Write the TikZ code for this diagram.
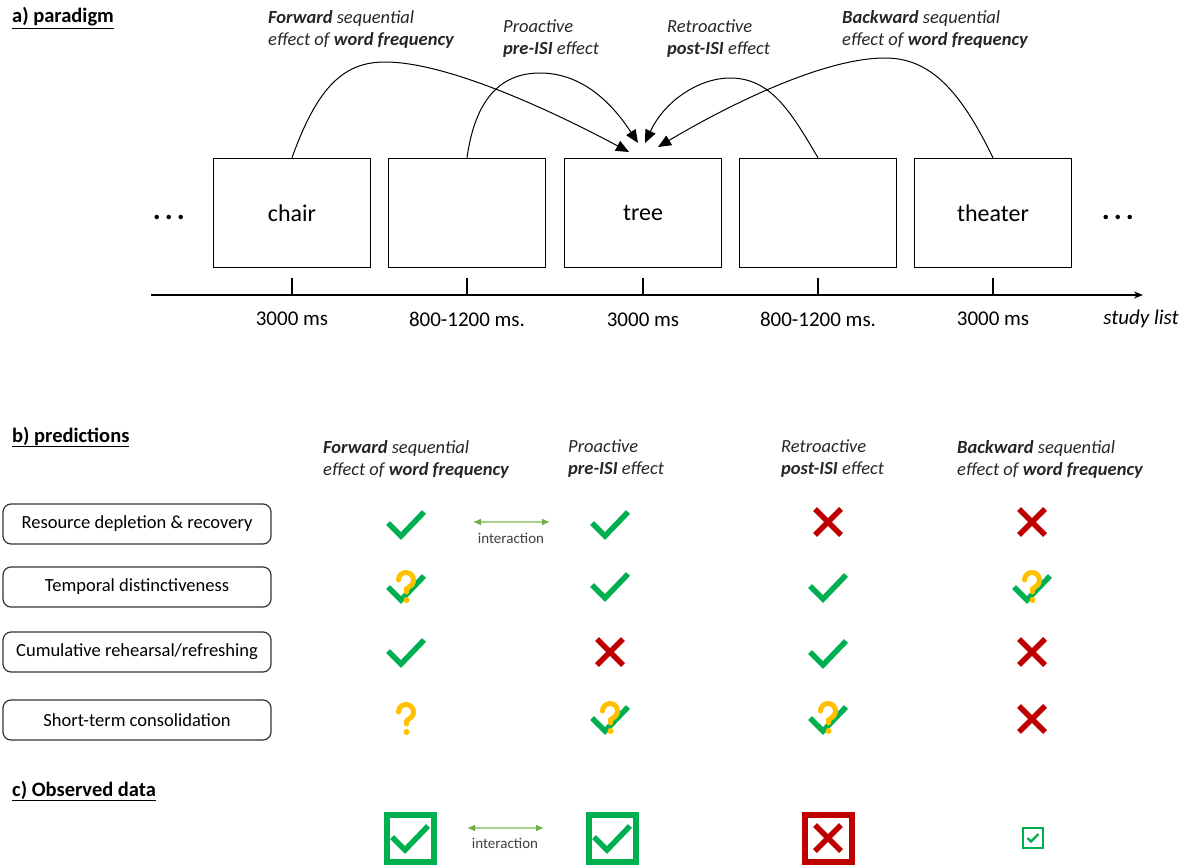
\documentclass[tikz,border=0pt]{standalone}
\usepackage{fontspec}
\setmainfont{Carlito}
\usetikzlibrary{arrows.meta}
\definecolor{cgreen}{HTML}{00B050}
\definecolor{cred}{HTML}{C00000}
\definecolor{cyellow}{HTML}{FFC000}
\definecolor{lgreen}{HTML}{A9D18E}
\definecolor{dgreen}{HTML}{70AD47}
\definecolor{txtgray}{HTML}{262626}
\tikzset{
  chk/.pic={\draw[cgreen,line width=5.5pt,line join=miter] (-18,-1) -- (-5,12) -- (18,-12);},
  crs/.pic={\draw[cred,line width=5.5pt] (-13,-13) -- (13,13) (-13,13) -- (13,-13);},
  qm/.pic={\draw[cyellow,line width=5pt,line cap=round] (-7.5,-8) arc[start angle=180,end angle=400,radius=7.5] -- (0.5,1) -- (0.5,4);
           \fill[cyellow] (0.5,12) circle (3);},
  chkq/.pic={\pic{chk}; \pic{qm};},
  gbox/.pic={\draw[cgreen,line width=6pt] (-23.5,-23.5) rectangle (23.5,23.5); \pic{chk};},
  rbox/.pic={\draw[cred,line width=6pt] (-23.5,-23.5) rectangle (23.5,23.5); \pic{crs};},
  sbox/.pic={\draw[cgreen,line width=2pt] (-10,-10) rectangle (10,10);
             \draw[cgreen,line width=2.2pt] (-5.5,0) -- (-2,3.5) -- (5.5,-4);},
  hdr/.style={anchor=west,inner sep=0pt,font=\fontsize{20.5}{24}\selectfont\bfseries},
  ann/.style={anchor=west,inner sep=0pt,align=left,text=txtgray,font=\fontsize{18.5}{22}\selectfont\itshape},
  wbox/.style={draw,line width=1.5pt,minimum width=157pt,minimum height=109pt,inner sep=0pt,font=\fontsize{24}{28}\selectfont},
  tlab/.style={inner sep=0pt,font=\fontsize{21}{25}\selectfont},
  dots/.style={inner sep=0pt,font=\fontsize{30}{34}\selectfont\bfseries},
  crv/.style={draw,line width=1pt,-{Triangle[length=13pt,width=11pt]}},
  labbox/.style={draw=black!80,line width=1.2pt,rounded corners=8pt,minimum width=268pt,minimum height=40pt,inner sep=0pt,font=\fontsize{18.5}{22}\selectfont},
  inter/.style={draw=lgreen,line width=1.5pt,{Latex[color=dgreen,length=8pt,width=7pt]}-{Latex[color=dgreen,length=8pt,width=7pt]}},
  itext/.style={inner sep=0pt,text=black!75,font=\fontsize{15}{18}\selectfont}
}
\begin{document}
\begin{tikzpicture}[x=1pt,y=-1pt]
\useasboundingbox (0,0) rectangle (1187,865);

% a) paradigm
\node[hdr] (ha) at (12,18) {\underline{a) paradigm}};
\node[ann] (af) at (268,29) {\textbf{Forward} sequential\\effect of \textbf{word frequency}};
\node[ann] (ap) at (503,39) {Proactive\\\textbf{pre-ISI} effect};
\node[ann] (ar) at (667,39) {Retroactive\\\textbf{post-ISI} effect};
\node[ann] (ab) at (842,29) {\textbf{Backward} sequential\\effect of \textbf{word frequency}};

\node[wbox] (b1) at (292,213) {chair};
\node[wbox] (b2) at (467,213) {};
\node[wbox] (b3) at (643,213) {tree};
\node[wbox] (b4) at (818,213) {};
\node[wbox] (b5) at (993,213) {theater};
\node[dots] (d1) at (169,217) {.\kern4pt.\kern4pt.};
\node[dots] (d2) at (1118,217) {.\kern4pt.\kern4pt.};

\coordinate (t1) at (629,152);
\coordinate (t2) at (638,143);
\coordinate (t3) at (645,143);
\coordinate (t4) at (658,147);
\draw[crv] (b1.north) .. controls (318,85) and (345,62) .. (385,62) .. controls (450,62) and (560,115) .. (t1);
\draw[crv] (b2.north) .. controls (475,100) and (500,73) .. (540,73) .. controls (580,73) and (610,100) .. (t2);
\draw[crv] (b4.north) .. controls (790,110) and (770,78) .. (730,78) .. controls (700,78) and (665,100) .. (t3);
\draw[crv] (b5.north) .. controls (960,90) and (930,58) .. (885,58) .. controls (820,58) and (720,110) .. (t4);

\coordinate (axL) at (151,295);
\coordinate (axR) at (1143,295);
\draw[line width=1.3pt,-{Stealth[length=9pt,width=7pt]}] (axL) -- (axR);
\foreach \n in {b1,b2,b3,b4,b5} \draw[line width=1.3pt] (\n.south) ++(0,10) -- (\n.south |- axL);
\node[tlab] (l1) at (292,319) {3000 ms};
\node[tlab] (l2) at (467,319) {800-1200 ms.};
\node[tlab] (l3) at (643,320) {3000 ms};
\node[tlab] (l4) at (818,319) {800-1200 ms.};
\node[tlab] (l5) at (993,319) {3000 ms};
\node[tlab,font=\fontsize{21}{25}\selectfont\itshape] (l6) at (1141,319) {study list};

% b) predictions
\node[hdr] (hb) at (12,437) {\underline{b) predictions}};
\node[ann] (pf) at (323,459) {\textbf{Forward} sequential\\effect of \textbf{word frequency}};
\node[ann] (pp) at (568,459) {Proactive\\\textbf{pre-ISI} effect};
\node[ann] (pr) at (781,459) {Retroactive\\\textbf{post-ISI} effect};
\node[ann] (pb) at (957,459) {\textbf{Backward} sequential\\effect of \textbf{word frequency}};

\node[labbox] (r1) at (137,524) {Resource depletion \& recovery};
\node[labbox] (r2) at (137,587) {Temporal distinctiveness};
\node[labbox] (r3) at (137,652) {Cumulative rehearsal/refreshing};
\node[labbox] (r4) at (137,720) {Short-term consolidation};

% row 1
\pic at (406,524) {chk};
\pic at (610,524) {chk};
\pic at (828,522) {crs};
\pic at (1032,522) {crs};
\coordinate (i1a) at (473,522);
\coordinate (i1b) at (550,522);
\draw[inter] (i1a) -- (i1b);
\node[itext] (i1t) at (511,538) {interaction};
% row 2
\pic at (406,588) {chkq};
\pic at (610,586) {chk};
\pic at (828,587) {chk};
\pic at (1032,588) {chkq};
% row 3
\pic at (406,652) {chk};
\pic at (610,652) {crs};
\pic at (828,653) {chk};
\pic at (1032,652) {crs};
% row 4
\pic at (406,720) {qm};
\pic at (610,719) {chkq};
\pic at (828,719) {chkq};
\pic at (1032,719) {crs};

% c) observed data
\node[hdr] (hc) at (12,791) {\underline{c) Observed data}};
\pic at (410,838) {gbox};
\pic at (612,838) {gbox};
\pic at (828,838) {rbox};
\pic at (1033,838) {sbox};
\coordinate (i2a) at (467,828);
\coordinate (i2b) at (544,828);
\draw[inter] (i2a) -- (i2b);
\node[itext] (i2t) at (505,843) {interaction};
\end{tikzpicture}
\end{document}
